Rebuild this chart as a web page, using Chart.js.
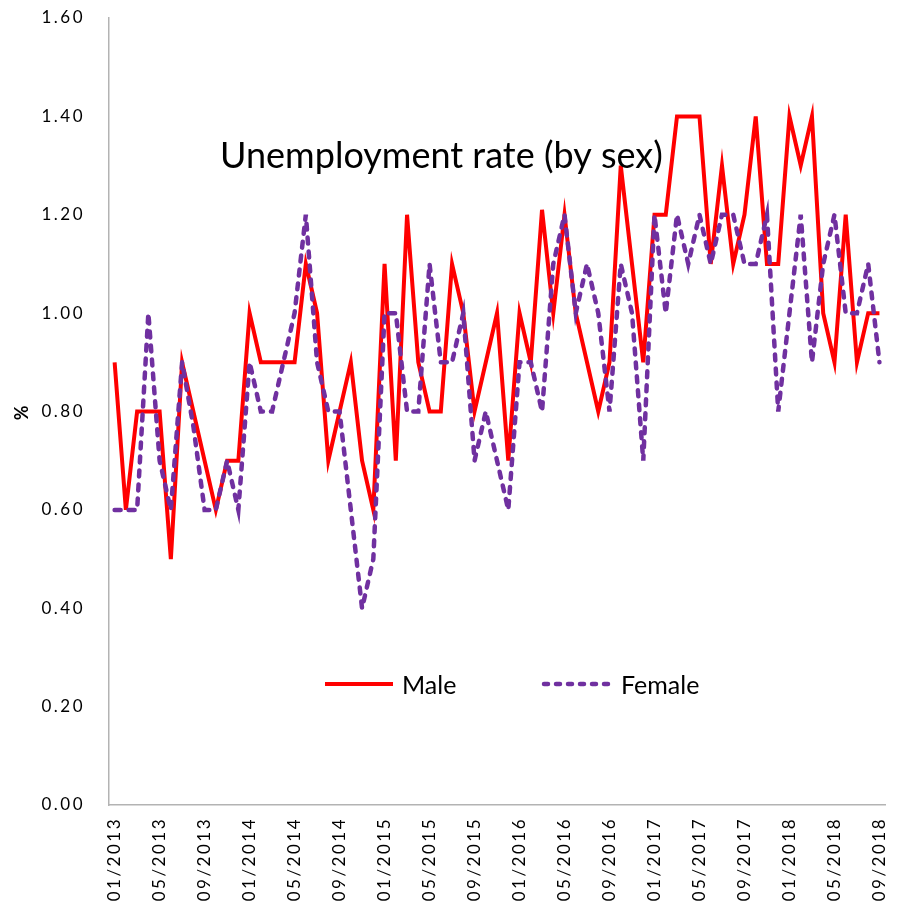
<!DOCTYPE html>
<html><head><meta charset="utf-8">
<script src="https://cdn.jsdelivr.net/npm/chart.js@4.4.0/dist/chart.umd.min.js"></script>
<style>html,body{margin:0;padding:0;background:#fff}#wrap{width:912px;height:910px}</style>
</head><body><div id="wrap"><canvas id="c" width="912" height="910" style="width:912px;height:910px"></canvas></div>
<script>
const months = [
 "01/2013","02/2013","03/2013","04/2013","05/2013","06/2013","07/2013","08/2013","09/2013","10/2013","11/2013","12/2013",
 "01/2014","02/2014","03/2014","04/2014","05/2014","06/2014","07/2014","08/2014","09/2014","10/2014","11/2014","12/2014",
 "01/2015","02/2015","03/2015","04/2015","05/2015","06/2015","07/2015","08/2015","09/2015","10/2015","11/2015","12/2015",
 "01/2016","02/2016","03/2016","04/2016","05/2016","06/2016","07/2016","08/2016","09/2016","10/2016","11/2016","12/2016",
 "01/2017","02/2017","03/2017","04/2017","05/2017","06/2017","07/2017","08/2017","09/2017","10/2017","11/2017","12/2017",
 "01/2018","02/2018","03/2018","04/2018","05/2018","06/2018","07/2018","08/2018","09/2018"
];
const male = [
 0.9,0.6,0.8,0.8,0.8,0.5,0.9,0.8,0.7,0.6,0.7,0.7,
 1.0,0.9,0.9,0.9,0.9,1.1,1.0,0.7,0.8,0.9,0.7,0.6,
 1.1,0.7,1.2,0.9,0.8,0.8,1.1,1.0,0.8,0.9,1.0,0.7,
 1.0,0.9,1.21,1.0,1.2,1.0,0.9,0.8,0.9,1.3,1.1,0.9,
 1.2,1.2,1.4,1.4,1.4,1.1,1.3,1.1,1.2,1.4,1.1,1.1,
 1.4,1.3,1.4,1.0,0.9,1.2,0.9,1.0,1.0
];
const female = [
 0.6,0.6,0.6,1.0,0.7,0.6,0.9,0.77,0.6,0.6,0.7,0.6,
 0.9,0.8,0.8,0.9,1.0,1.2,0.9,0.8,0.8,0.6,0.4,0.5,
 1.0,1.0,0.8,0.8,1.1,0.9,0.9,1.0,0.7,0.8,0.7,0.6,
 0.9,0.9,0.8,1.1,1.2,1.0,1.1,1.0,0.8,1.1,1.0,0.7,
 1.2,1.0,1.2,1.1,1.2,1.1,1.2,1.2,1.1,1.1,1.2,0.8,
 1.0,1.2,0.9,1.1,1.2,1.0,1.0,1.1,0.9
];
const seriesNames = ["Male","Female"];
const chartTitle = "Unemployment rate (by sex)";
const yAxisTitle = "%";
const yMin = 0, yMax = 1.6, yStep = 0.2;
const labelEvery = 4;

const MALE_COLOR = "#FF0000";
const FEMALE_COLOR = "#7030A0";
const FEMALE_DASH = [6, 8];
const TICK_SPACING = "2.5px";

Chart.defaults.font.family = "Lato, 'Open Sans', sans-serif";

const spacingPlugin = {
  id: "spacing",
  beforeLayout(chart) { chart.ctx.letterSpacing = TICK_SPACING; },
  beforeDraw(chart) { chart.ctx.letterSpacing = TICK_SPACING; }
};

const overlay = {
  id: "overlay",
  afterDraw(chart) {
    const { ctx, chartArea: a } = chart;
    ctx.save();
    ctx.letterSpacing = "0px";
    ctx.fillStyle = "#000";
    ctx.textBaseline = "alphabetic";
    ctx.font = "36px Lato";
    ctx.textAlign = "center";
    ctx.fillText(chartTitle, a.left + 0.4284 * (a.right - a.left), a.top + 150);

    const ly = a.top + 666;
    ctx.lineWidth = 4;
    ctx.strokeStyle = MALE_COLOR;
    ctx.setLineDash([]);
    ctx.lineCap = "butt";
    ctx.beginPath(); ctx.moveTo(a.left + 216, ly); ctx.lineTo(a.left + 284, ly); ctx.stroke();
    ctx.strokeStyle = FEMALE_COLOR;
    ctx.lineWidth = 4.5;
    ctx.setLineDash([4, 8]);
    ctx.lineCap = "round";
    ctx.beginPath(); ctx.moveTo(a.left + 435, ly); ctx.lineTo(a.left + 504, ly); ctx.stroke();
    ctx.setLineDash([]);
    ctx.font = "25px Lato";
    ctx.textAlign = "left";
    ctx.fillText(seriesNames[0], a.left + 293, a.top + 676);
    ctx.fillText(seriesNames[1], a.left + 512, a.top + 676);
    ctx.restore();
  }
};

new Chart(document.getElementById("c"), {
  type: "line",
  data: {
    labels: months,
    datasets: [
      { label: seriesNames[0], data: male, borderColor: MALE_COLOR, borderWidth: 4,
        pointRadius: 0, tension: 0, fill: false, order: 1 },
      { label: seriesNames[1], data: female, borderColor: FEMALE_COLOR, borderWidth: 4.5,
        borderDash: FEMALE_DASH, borderCapStyle: "round",
        pointRadius: 0, tension: 0, fill: false, order: 0 }
    ]
  },
  options: {
    responsive: false,
    animation: false,
    devicePixelRatio: 1,
    layout: { padding: { left: 4, right: 21, top: 18, bottom: 0 } },
    plugins: { legend: { display: false }, title: { display: false }, tooltip: { enabled: false } },
    scales: {
      x: {
        offset: true,
        grid: { display: false, drawTicks: false },
        border: { display: true, color: "#b3b3b3", width: 1.5 },
        ticks: {
          autoSkip: false, maxRotation: 90, minRotation: 90, padding: 12,
          color: "#000", font: { size: 17 },
          callback(v, i) { return i % labelEvery === 0 ? months[i] : ""; }
        },
        afterFit(s) { s.height = 105; }
      },
      y: {
        min: yMin, max: yMax,
        grid: { display: false, drawTicks: false },
        border: { display: true, color: "#b3b3b3", width: 1.5 },
        ticks: { stepSize: yStep, padding: 24, color: "#000", font: { size: 17 },
          callback(v) { return Number(v).toFixed(2); } },
        title: { display: true, text: yAxisTitle, color: "#000",
          font: { size: 18, weight: "bold" }, padding: { top: 7, bottom: 0 } },
        afterFit(s) { s.width = 105; s.paddingTop = 0; s.paddingBottom = 0; }
      }
    }
  },
  plugins: [spacingPlugin, overlay]
});
</script>
</body></html>
